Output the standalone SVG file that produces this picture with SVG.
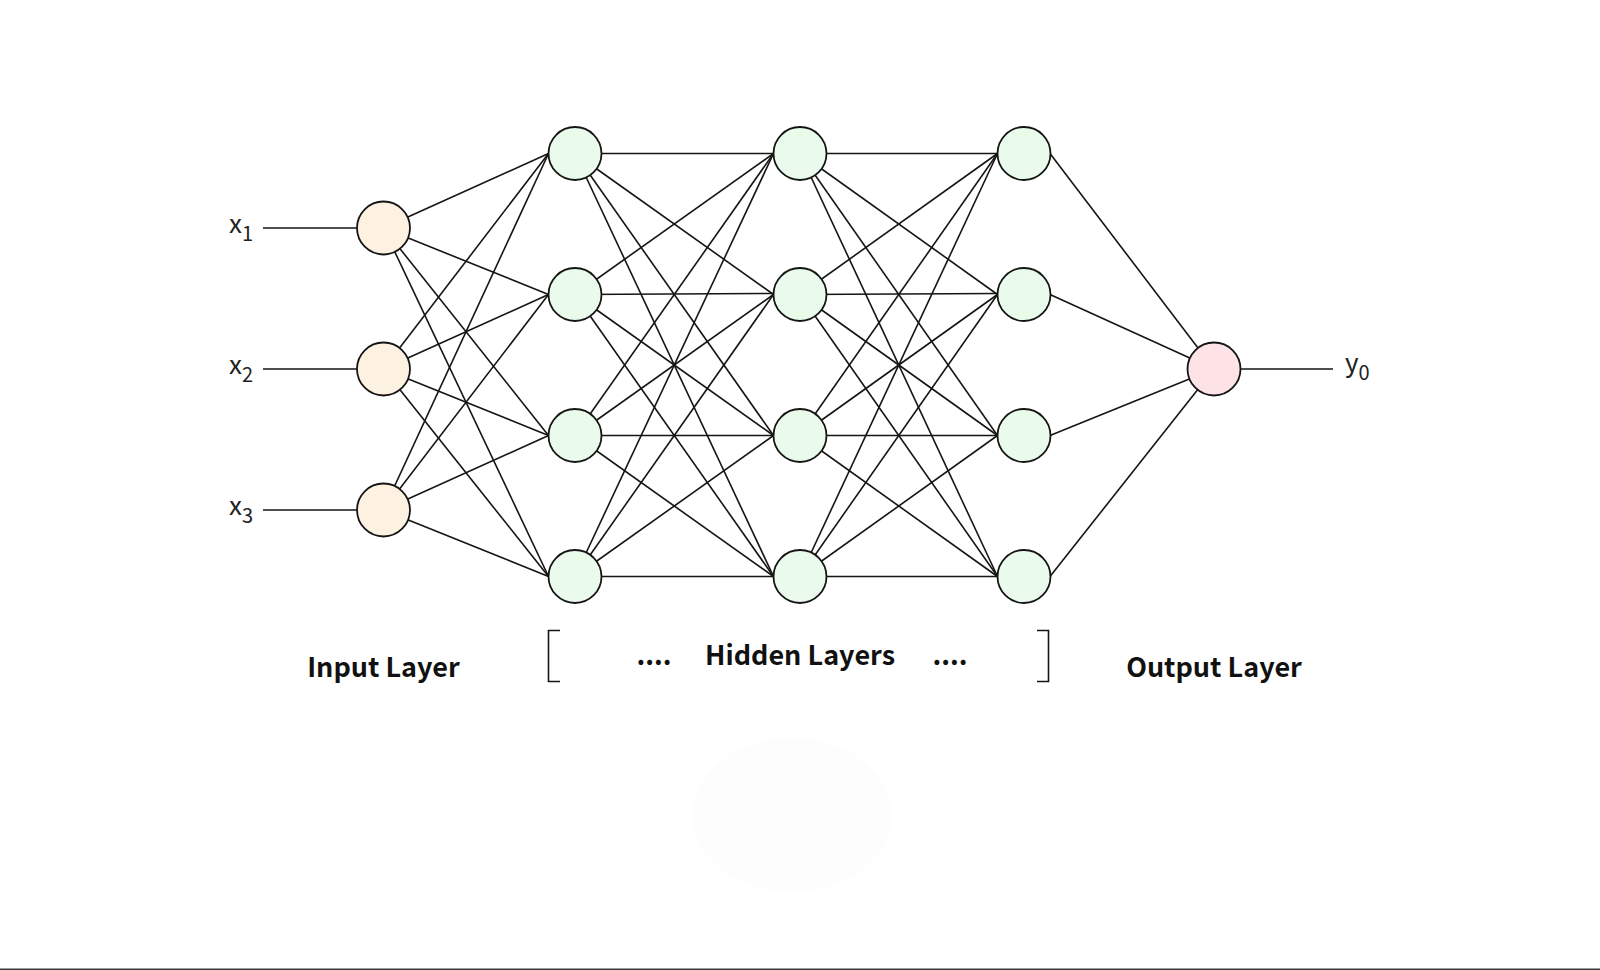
<svg xmlns="http://www.w3.org/2000/svg" width="1600" height="970" viewBox="0 0 1600 970">
<style>
.e{stroke:#151515;stroke-width:1.6;fill:none}
.n{stroke:#151515;stroke-width:1.8}
.in{fill:#fdf1e2}
.hd{fill:#eafbec}
.out{fill:#fde3e6}
.lbl{font-family:"Noto Sans CJK SC","Noto Sans",sans-serif;font-size:27px;font-weight:bold;fill:#111;text-anchor:middle}
.var{font-family:"Noto Sans CJK SC","Noto Sans",sans-serif;font-size:26px;fill:#222}
.sub{font-size:20px}
</style>
<rect x="0" y="0" width="1600" height="970" fill="#ffffff"/>
<ellipse cx="792" cy="815" rx="100" ry="77" fill="#fdfdfd"/>
<rect x="0" y="968.5" width="1600" height="1.5" fill="#3a3a3a"/>
<g id="connectors">
<line class="e" x1="263" y1="228" x2="357" y2="228"/>
<line class="e" x1="263" y1="369" x2="357" y2="369"/>
<line class="e" x1="263" y1="510" x2="357" y2="510"/>
<line class="e" x1="1240.5" y1="369" x2="1333" y2="369"/>
<!-- input -> hidden1 -->
<line class="e" x1="383.5" y1="228" x2="548.5" y2="153.5"/>
<line class="e" x1="383.5" y1="228" x2="548.5" y2="294.5"/>
<line class="e" x1="383.5" y1="228" x2="548.5" y2="435.5"/>
<line class="e" x1="383.5" y1="228" x2="548.5" y2="576.5"/>
<line class="e" x1="383.5" y1="369" x2="548.5" y2="153.5"/>
<line class="e" x1="383.5" y1="369" x2="548.5" y2="294.5"/>
<line class="e" x1="383.5" y1="369" x2="548.5" y2="435.5"/>
<line class="e" x1="383.5" y1="369" x2="548.5" y2="576.5"/>
<line class="e" x1="383.5" y1="510" x2="548.5" y2="153.5"/>
<line class="e" x1="383.5" y1="510" x2="548.5" y2="294.5"/>
<line class="e" x1="383.5" y1="510" x2="548.5" y2="435.5"/>
<line class="e" x1="383.5" y1="510" x2="548.5" y2="576.5"/>
<!-- hidden1 -> hidden2 -->
<line class="e" x1="575" y1="153.5" x2="773.5" y2="153.5"/>
<line class="e" x1="575" y1="153.5" x2="773.5" y2="294.5"/>
<line class="e" x1="575" y1="153.5" x2="773.5" y2="435.5"/>
<line class="e" x1="575" y1="153.5" x2="773.5" y2="576.5"/>
<line class="e" x1="575" y1="294.5" x2="773.5" y2="153.5"/>
<line class="e" x1="575" y1="294.5" x2="773.5" y2="293.5"/>
<line class="e" x1="575" y1="294.5" x2="773.5" y2="435.5"/>
<line class="e" x1="575" y1="294.5" x2="773.5" y2="576.5"/>
<line class="e" x1="575" y1="435.5" x2="773.5" y2="153.5"/>
<line class="e" x1="575" y1="435.5" x2="773.5" y2="294.5"/>
<line class="e" x1="575" y1="435.5" x2="773.5" y2="435.5"/>
<line class="e" x1="575" y1="435.5" x2="773.5" y2="576.5"/>
<line class="e" x1="575" y1="576.5" x2="773.5" y2="153.5"/>
<line class="e" x1="575" y1="576.5" x2="773.5" y2="294.5"/>
<line class="e" x1="575" y1="576.5" x2="773.5" y2="435.5"/>
<line class="e" x1="575" y1="576.5" x2="773.5" y2="576.5"/>
<!-- hidden2 -> hidden3 -->
<line class="e" x1="800" y1="153.5" x2="997.5" y2="153.5"/>
<line class="e" x1="800" y1="153.5" x2="997.5" y2="294.5"/>
<line class="e" x1="800" y1="153.5" x2="997.5" y2="435.5"/>
<line class="e" x1="800" y1="153.5" x2="997.5" y2="576.5"/>
<line class="e" x1="800" y1="294.5" x2="997.5" y2="153.5"/>
<line class="e" x1="800" y1="294.5" x2="997.5" y2="293.5"/>
<line class="e" x1="800" y1="294.5" x2="997.5" y2="435.5"/>
<line class="e" x1="800" y1="294.5" x2="997.5" y2="576.5"/>
<line class="e" x1="800" y1="435.5" x2="997.5" y2="153.5"/>
<line class="e" x1="800" y1="435.5" x2="997.5" y2="294.5"/>
<line class="e" x1="800" y1="435.5" x2="997.5" y2="435.5"/>
<line class="e" x1="800" y1="435.5" x2="997.5" y2="576.5"/>
<line class="e" x1="800" y1="576.5" x2="997.5" y2="153.5"/>
<line class="e" x1="800" y1="576.5" x2="997.5" y2="294.5"/>
<line class="e" x1="800" y1="576.5" x2="997.5" y2="435.5"/>
<line class="e" x1="800" y1="576.5" x2="997.5" y2="576.5"/>
<!-- hidden3 -> output -->
<line class="e" x1="1050" y1="153.5" x2="1214" y2="369"/>
<line class="e" x1="1050" y1="294.5" x2="1214" y2="369"/>
<line class="e" x1="1050" y1="435.5" x2="1214" y2="369"/>
<line class="e" x1="1050" y1="576.5" x2="1214" y2="369"/>
</g>
<g id="input-nodes">
<g id="in1"><circle class="n in" cx="383.5" cy="228" r="26.5"/></g>
<g id="in2"><circle class="n in" cx="383.5" cy="369" r="26.5"/></g>
<g id="in3"><circle class="n in" cx="383.5" cy="510" r="26.5"/></g>
</g>
<g id="hidden1">
<g id="h11"><circle class="n hd" cx="575" cy="153.5" r="26.5"/></g>
<g id="h12"><circle class="n hd" cx="575" cy="294.5" r="26.5"/></g>
<g id="h13"><circle class="n hd" cx="575" cy="435.5" r="26.5"/></g>
<g id="h14"><circle class="n hd" cx="575" cy="576.5" r="26.5"/></g>
</g>
<g id="hidden2">
<g id="h21"><circle class="n hd" cx="800" cy="153.5" r="26.5"/></g>
<g id="h22"><circle class="n hd" cx="800" cy="294.5" r="26.5"/></g>
<g id="h23"><circle class="n hd" cx="800" cy="435.5" r="26.5"/></g>
<g id="h24"><circle class="n hd" cx="800" cy="576.5" r="26.5"/></g>
</g>
<g id="hidden3">
<g id="h31"><circle class="n hd" cx="1024" cy="153.5" r="26.5"/></g>
<g id="h32"><circle class="n hd" cx="1024" cy="294.5" r="26.5"/></g>
<g id="h33"><circle class="n hd" cx="1024" cy="435.5" r="26.5"/></g>
<g id="h34"><circle class="n hd" cx="1024" cy="576.5" r="26.5"/></g>
</g>
<g id="output-node">
<circle class="n out" cx="1214" cy="369" r="26.5"/>
</g>
<g id="variables">
<text class="var" x="229" y="233">x<tspan class="sub" dy="8">1</tspan></text>
<text class="var" x="229" y="374">x<tspan class="sub" dy="8">2</tspan></text>
<text class="var" x="229" y="515">x<tspan class="sub" dy="8">3</tspan></text>
<text class="var" x="1345" y="372">y<tspan class="sub" dy="8">0</tspan></text>
</g>
<g id="labels">
<text class="lbl" x="383.5" y="677">Input Layer</text>
<text class="lbl" x="800" y="665">Hidden Layers</text>
<text class="lbl" x="654" y="665">....</text>
<text class="lbl" x="950" y="665">....</text>
<text class="lbl" x="1214" y="677">Output Layer</text>
<path class="e" d="M560,630.5 H548.5 V681.5 H560"/>
<path class="e" d="M1037,630.5 H1048.5 V681.5 H1037"/>
</g>
</svg>
